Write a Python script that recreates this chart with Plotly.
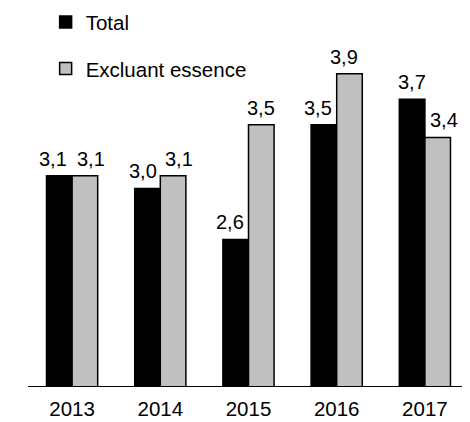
import plotly.graph_objects as go

years = ["2013", "2014", "2015", "2016", "2017"]
total = [3.1, 3.0, 2.6, 3.5, 3.7]
excl_essence = [3.1, 3.1, 3.5, 3.9, 3.4]

FONT = "Liberation Sans, Arial, sans-serif"

# figure geometry (page body adds an 8px margin)
W, H = 462, 414
ML, MR, MT, MB = 20, 1, 2, 36
BARGAP = 0.42
cat_px = (W - ML - MR) / len(years)
bar_off = cat_px * (1 - BARGAP) / 4

# label nudges (px) to mimic the reference's hand-placed value labels
nudge_total = [-6, -5, -6, -6, 0]
nudge_excl = [6, 6, 0, -5, 6]


def fmt(v):
    return f"{v:.1f}".replace(".", ",")


fig = go.Figure()
fig.add_trace(go.Bar(
    x=years, y=total, name="Total", legendgroup="a",
    marker=dict(color="#000000", line=dict(color="#000000", width=1.5)),
))
fig.add_trace(go.Bar(
    x=years, y=excl_essence, name="Excluant essence", legendgroup="b",
    marker=dict(color="#c0c0c0", line=dict(color="#000000", width=1.5)),
))

annotations = []
for vals, sign, nudges in ((total, -1, nudge_total), (excl_essence, 1, nudge_excl)):
    for idx, (v, n) in enumerate(zip(vals, nudges)):
        # category index position on the category axis
        annotations.append(dict(
            x=idx, y=v, xref="x", yref="y", text=fmt(v), showarrow=False,
            xanchor="center", yanchor="bottom", xshift=sign * bar_off + n, yshift=4,
            font=dict(size=20, family=FONT, color="#000000"),
        ))

fig.update_layout(
    width=W, height=H,
    margin=dict(l=ML, r=MR, t=MT, b=MB, autoexpand=False),
    paper_bgcolor="white", plot_bgcolor="white",
    font=dict(family=FONT, size=20.5, color="#000000"),
    barmode="group", bargap=BARGAP, bargroupgap=0,
    showlegend=True,
    legend=dict(
        x=0.04, y=1.021, xanchor="left", yanchor="top",
        orientation="v", traceorder="grouped", tracegroupgap=17,
        font=dict(size=20.5, family=FONT, color="#000000"),
        bgcolor="rgba(0,0,0,0)",
    ),
    annotations=annotations,
    xaxis=dict(
        type="category", range=[-0.5, len(years) - 0.5],
        showline=True, linecolor="#000000", linewidth=1,
        ticks="", showgrid=False, zeroline=False, ticklabelstandoff=4,
        tickfont=dict(size=20.5, family=FONT, color="#000000"),
    ),
    yaxis=dict(
        range=[1.45, 4.4], visible=False, showgrid=False, zeroline=False,
    ),
)

fig.write_html("out.html")
